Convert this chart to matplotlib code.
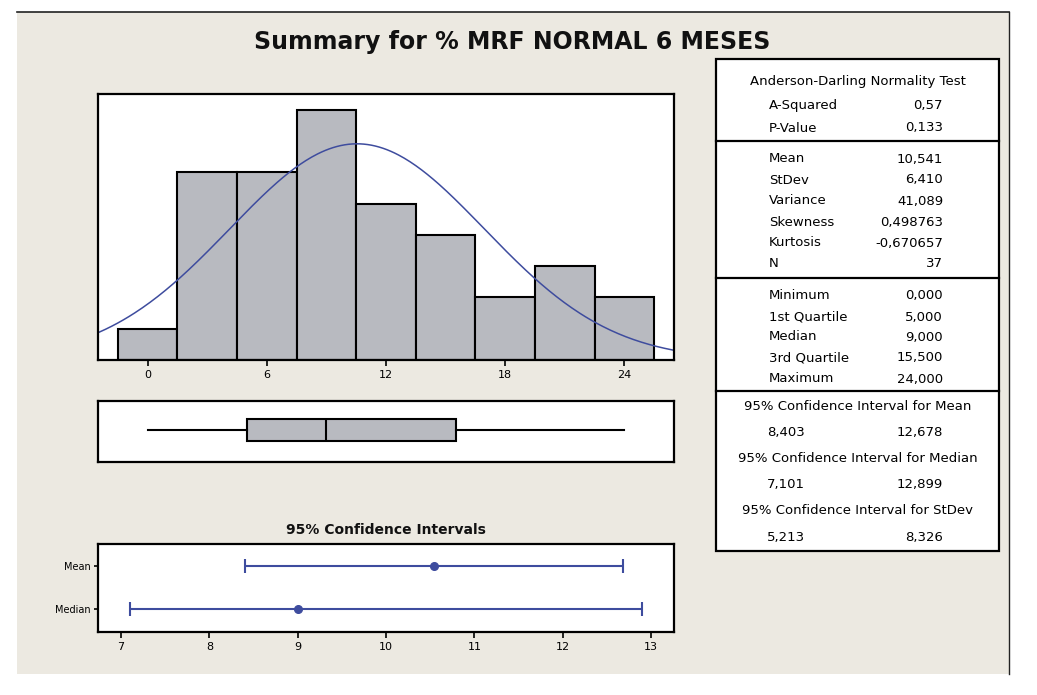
import numpy as np
import matplotlib
matplotlib.use('Agg')
from matplotlib import pyplot as plt
from matplotlib.patches import Rectangle

# data
bin_mids = [0, 3, 6, 9, 12, 15, 18, 21, 24]
counts = [1, 6, 6, 8, 5, 4, 2, 3, 2]
bin_width = 3

n = 37
mean = 10.541
stdev = 6.410
minimum, q1, median, q3, maximum = 0.0, 5.0, 9.0, 15.5, 24.0

ci_names = ['Mean', 'Median']
ci_centers = [10.541, 9.0]
ci_low = [8.403, 7.101]
ci_high = [12.678, 12.899]

ad_rows = [('A-Squared', '0,57'), ('P-Value', '0,133')]
desc_rows = [('Mean', '10,541'), ('StDev', '6,410'), ('Variance', '41,089'),
             ('Skewness', '0,498763'), ('Kurtosis', '-0,670657'), ('N', '37')]
quart_rows = [('Minimum', '0,000'), ('1st Quartile', '5,000'), ('Median', '9,000'),
              ('3rd Quartile', '15,500'), ('Maximum', '24,000')]
ci_rows = [('95% Confidence Interval for Mean', '8,403', '12,678'),
           ('95% Confidence Interval for Median', '7,101', '12,899'),
           ('95% Confidence Interval for StDev', '5,213', '8,326')]

W, H = 1037, 695
BG = '#ECE9E1'
GREY = '#B8BAC0'
BLUE = '#3E4C9E'

fig = plt.figure(figsize=(W / 100, H / 100), dpi=100, facecolor='white')


def px_axes(l, t, r, b):
    a = fig.add_axes([l / W, 1 - b / H, (r - l) / W, (b - t) / H])
    a.set_zorder(2)
    return a


def fx(x):
    return x / W


def fy(y):
    return 1 - y / H


# beige panel with dark top/right edge
fig.patches.append(Rectangle((fx(17), fy(674)), fx(1009) - fx(17), fy(12) - fy(674),
                             transform=fig.transFigure, facecolor=BG, edgecolor='none', zorder=-5))
fig.add_artist(plt.Line2D([fx(17), fx(1009)], [fy(12), fy(12)], transform=fig.transFigure,
                          color='#222222', lw=1.2))
fig.add_artist(plt.Line2D([fx(1009), fx(1009)], [fy(12), fy(674)], transform=fig.transFigure,
                          color='#222222', lw=1.0))

fig.text(fx(512), fy(42), 'Summary for % MRF NORMAL 6 MESES', ha='center', va='center',
         fontsize=17, fontweight='bold', color='#111111')


def frame(ax, lw=1.6):
    for s in ax.spines.values():
        s.set_linewidth(lw)
        s.set_color('black')


# histogram with fitted normal curve
ax = px_axes(98, 94, 674, 360)
ax.bar(bin_mids, counts, width=bin_width, color=GREY, edgecolor='black', linewidth=1.5)
xs = np.linspace(-2.5, 26.5, 300)
pdf = n * bin_width * np.exp(-0.5 * ((xs - mean) / stdev) ** 2) / (stdev * np.sqrt(2 * np.pi))
ax.plot(xs, pdf, color=BLUE, lw=1.1)
ax.set_xlim(-2.5, 26.5)
ax.set_ylim(0, 8.5)
ax.set_xticks([0, 6, 12, 18, 24])
ax.set_yticks([])
ax.tick_params(axis='x', length=4, width=1.2, labelsize=8, pad=3)
frame(ax)

# boxplot
ax = px_axes(98, 401, 674, 462)
stats = [{'whislo': minimum, 'q1': q1, 'med': median, 'q3': q3, 'whishi': maximum, 'fliers': []}]
ax.bxp(stats, positions=[0.52], widths=0.36, vert=False, patch_artist=True, showcaps=False,
       boxprops=dict(facecolor=GREY, edgecolor='black', linewidth=1.5),
       medianprops=dict(color='black', linewidth=1.5),
       whiskerprops=dict(color='black', linewidth=1.5))
ax.set_xlim(-2.5, 26.5)
ax.set_ylim(0, 1)
ax.set_xticks([])
ax.set_yticks([])
frame(ax)

# confidence intervals
fig.text(fx(386), fy(530), '95% Confidence Intervals', ha='center', va='center',
         fontsize=10, fontweight='bold', color='#111111')
ax = px_axes(98, 544, 674, 632)
ypos = [1, 0]
for y, c, lo, hi in zip(ypos, ci_centers, ci_low, ci_high):
    ax.errorbar([c], [y], xerr=[[c - lo], [hi - c]], fmt='o', color=BLUE, ms=5.5,
                elinewidth=1.5, capsize=5, capthick=1.5)
ax.set_xlim(6.74, 13.26)
ax.set_ylim(-0.53, 1.51)
ax.set_xticks([7, 8, 9, 10, 11, 12, 13])
ax.set_yticks(ypos)
ax.set_yticklabels(ci_names)
ax.tick_params(axis='x', length=4, width=1.2, labelsize=8, pad=3)
ax.tick_params(axis='y', length=3, width=1.2, labelsize=7, pad=2)
frame(ax)

# statistics table
tl, tr = 716, 999
fig.patches.append(Rectangle((fx(tl), fy(551)), fx(tr) - fx(tl), fy(59) - fy(551),
                             transform=fig.transFigure, facecolor='white', edgecolor='black',
                             linewidth=1.6, zorder=1))
for yy in [141, 278, 391]:
    fig.add_artist(plt.Line2D([fx(tl), fx(tr)], [fy(yy), fy(yy)], transform=fig.transFigure,
                              color='black', lw=1.6))

fs = 9.5
lab_x, val_x, mid_x = 769, 943, 857.5
fig.text(fx(mid_x), fy(81), 'Anderson-Darling Normality Test', ha='center', va='center', fontsize=fs)
for (name, val), y in zip(ad_rows, [105, 128]):
    fig.text(fx(lab_x), fy(y), name, ha='left', va='center', fontsize=fs)
    fig.text(fx(val_x), fy(y), val, ha='right', va='center', fontsize=fs)
for (name, val), y in zip(desc_rows, [159, 180, 201, 222, 243, 263]):
    fig.text(fx(lab_x), fy(y), name, ha='left', va='center', fontsize=fs)
    fig.text(fx(val_x), fy(y), val, ha='right', va='center', fontsize=fs)
for (name, val), y in zip(quart_rows, [296, 317, 337, 358, 379]):
    fig.text(fx(lab_x), fy(y), name, ha='left', va='center', fontsize=fs)
    fig.text(fx(val_x), fy(y), val, ha='right', va='center', fontsize=fs)
for (head, lo, hi), y in zip(ci_rows, [406, 458, 511]):
    fig.text(fx(mid_x), fy(y), head, ha='center', va='center', fontsize=fs)
    fig.text(fx(lab_x - 2), fy(y + 26.5), lo, ha='left', va='center', fontsize=fs)
    fig.text(fx(val_x), fy(y + 26.5), hi, ha='right', va='center', fontsize=fs)

fig.savefig('out.png', dpi=100, facecolor='white')
